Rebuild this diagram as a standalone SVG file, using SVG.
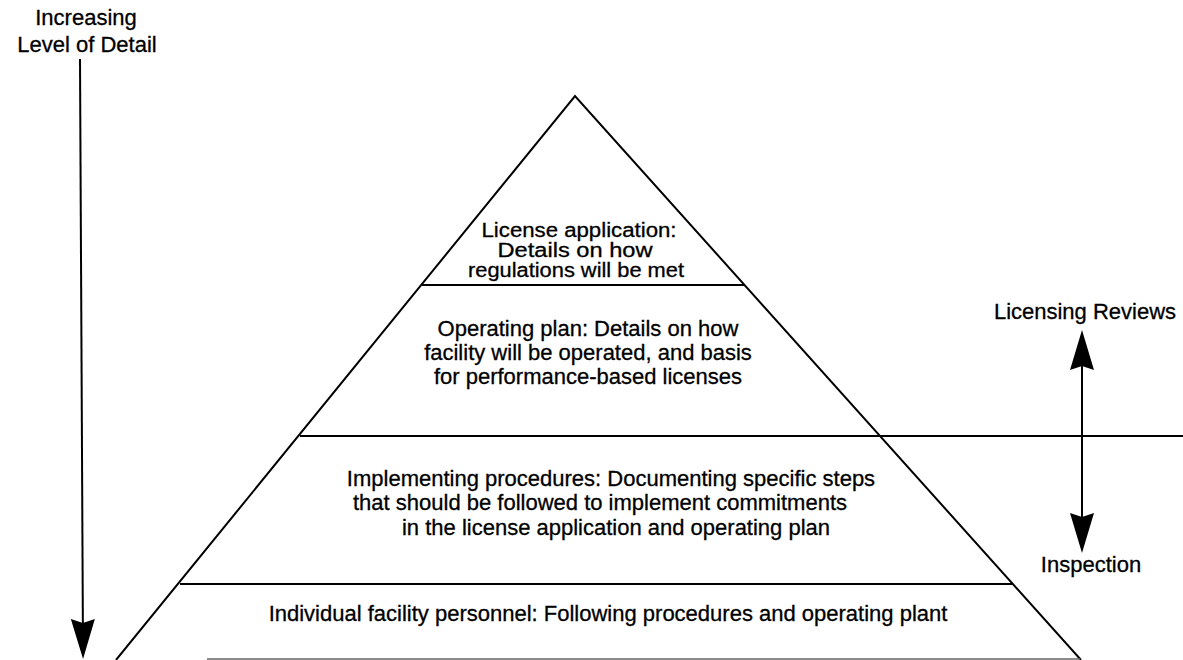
<svg xmlns="http://www.w3.org/2000/svg" width="1183" height="660" viewBox="0 0 1183 660">
  <style>
    text { font-family: "Liberation Sans", Arial, Helvetica, sans-serif; font-size: 22px; fill: #000; stroke: #000; stroke-width: 0.3; text-anchor: middle; }
    .tight { font-size: 20px; }
    .edge { stroke: #000; stroke-width: 2; fill: none; stroke-linecap: butt; }
    .tier { stroke: #000; stroke-width: 2; }
    .base { stroke: #666; stroke-width: 1.5; }
    .arrow { stroke: #000; stroke-width: 2; fill: none; }
  </style>
  <defs>
    <!-- notched solid arrowhead, tip sits 9px past the line end -->
    <marker id="head" markerUnits="userSpaceOnUse" viewBox="-32 -13 42 26" markerWidth="42" markerHeight="26" refX="0" refY="0" orient="auto-start-reverse">
      <path d="M9,0 L-31,-12 L-27,0 L-31,12 Z" fill="#000"/>
    </marker>
  </defs>

  <rect width="1183" height="660" fill="#fff"/>

  <!-- pyramid outline -->
  <g id="pyramid">
    <polyline class="edge" points="116,660 575,96 1081,660"/>
  </g>

  <!-- top tier: three tightly packed lines -->
  <g id="tier-license">
    <line class="tier" x1="422" y1="285" x2="745" y2="285"/>
    <text class="tight" x="579" y="237" textLength="195" lengthAdjust="spacingAndGlyphs">License application:</text>
    <text class="tight" x="575" y="257" textLength="155" lengthAdjust="spacingAndGlyphs">Details on how</text>
    <text class="tight" x="576" y="277" textLength="216" lengthAdjust="spacingAndGlyphs">regulations will be met</text>
  </g>

  <!-- second tier; its floor line runs out past the pyramid -->
  <g id="tier-operating">
    <line class="tier" x1="300" y1="436" x2="1183" y2="436"/>
    <text x="588" y="336">Operating plan: Details on how</text>
    <text x="588" y="360">facility will be operated, and basis</text>
    <text x="588" y="384">for performance-based licenses</text>
  </g>

  <!-- third tier -->
  <g id="tier-implementing">
    <line class="tier" x1="180" y1="584" x2="1012" y2="584"/>
    <text x="611" y="486">Implementing procedures: Documenting specific steps</text>
    <text x="600" y="510">that should be followed to implement commitments</text>
    <text x="616" y="535">in the license application and operating plan</text>
  </g>

  <!-- bottom tier -->
  <g id="tier-personnel">
    <line class="base" x1="207" y1="659" x2="1080" y2="659"/>
    <text x="608" y="621">Individual facility personnel: Following procedures and operating plant</text>
  </g>

  <!-- side labels -->
  <g id="label-detail">
    <text x="86" y="25">Increasing</text>
    <text x="87" y="52">Level of Detail</text>
  </g>
  <g id="label-reviews">
    <text x="1085" y="319">Licensing Reviews</text>
  </g>
  <g id="label-inspection">
    <text x="1091" y="572">Inspection</text>
  </g>

  <!-- arrows -->
  <g id="connectors">
    <line class="arrow" x1="80" y1="59" x2="83" y2="650" marker-end="url(#head)"/>
    <line class="arrow" x1="1082" y1="339" x2="1082" y2="544" marker-start="url(#head)" marker-end="url(#head)"/>
  </g>
</svg>
